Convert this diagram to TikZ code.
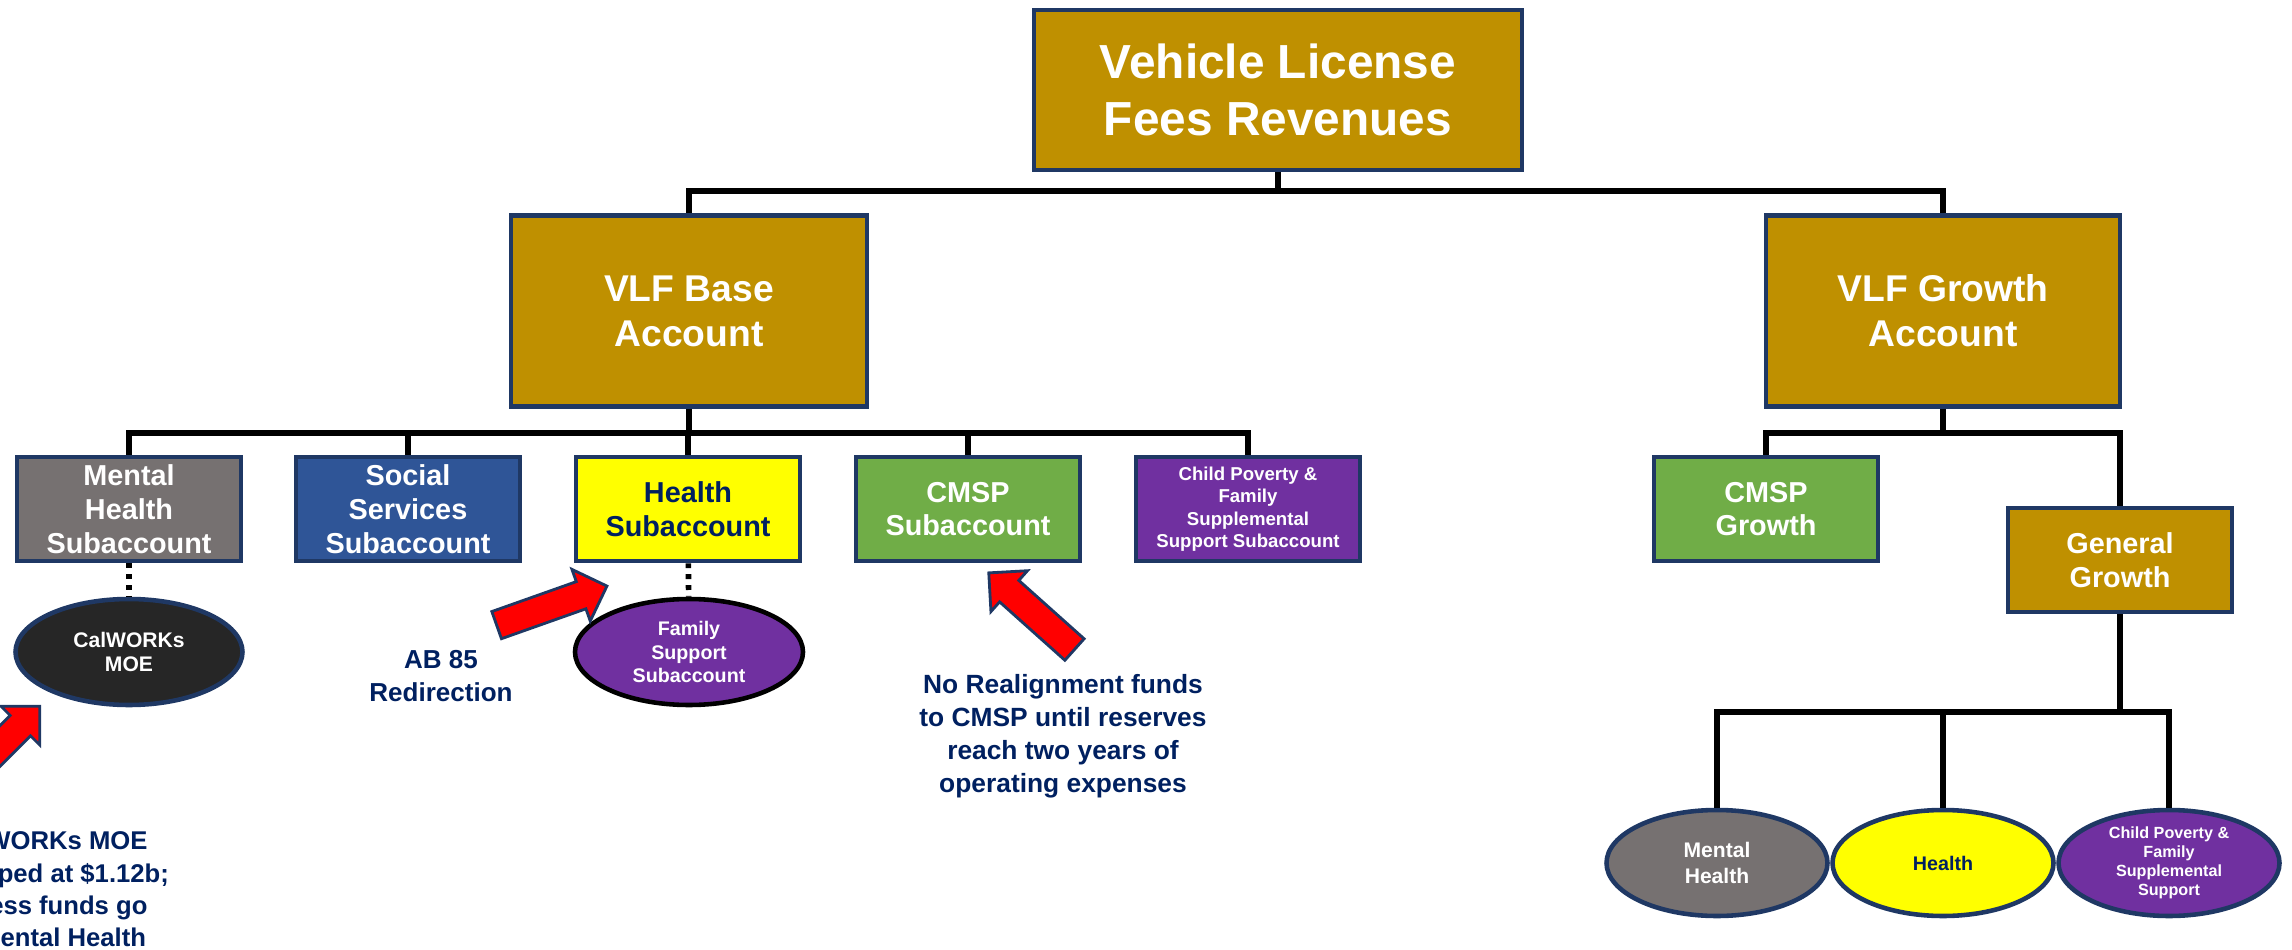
\documentclass[tikz,border=0pt]{standalone}
\usepackage{fontspec}
\setmainfont{Liberation Sans}
\usetikzlibrary{shapes.geometric,shapes.arrows}

\definecolor{vlfgold}{RGB}{191,144,0}
\definecolor{edgenavy}{RGB}{31,56,100}
\definecolor{textnavy}{RGB}{0,32,96}
\definecolor{mhgray}{RGB}{118,113,113}
\definecolor{ssblue}{RGB}{47,85,151}
\definecolor{hyellow}{RGB}{255,255,0}
\definecolor{cmspgreen}{RGB}{112,173,71}
\definecolor{cppurple}{RGB}{112,48,160}
\definecolor{moedark}{RGB}{38,38,38}
\definecolor{arrowred}{RGB}{255,0,0}

\newcommand{\fsz}[2]{\fontsize{#1}{#2}\selectfont}

\tikzset{
  acct/.style={draw=edgenavy,line width=1.3pt,align=center,text=white,inner sep=1pt},
  subacct/.style={acct,minimum width=2.24cm,minimum height=1.04cm,font=\bfseries\fsz{8.2}{9.6}},
  pot/.style={ellipse,draw=edgenavy,line width=1.3pt,align=center,text=white,inner xsep=0pt,inner ysep=-3pt},
  link/.style={line width=1.6pt},
  dotlink/.style={line width=1.6pt,dash pattern=on 1.4pt off 1.7pt},
  redarrow/.style={single arrow,draw=edgenavy,line width=0.8pt,fill=arrowred,inner sep=0.13cm,single arrow head extend=0.13cm,minimum width=0pt},
  note/.style={align=center,text=textnavy,font=\bfseries\fsz{7.3}{9.2}}
}

\begin{document}
\begin{tikzpicture}
  \useasboundingbox (0,0) rectangle (22.92,9.49);
  \clip (0,0) rectangle (22.92,9.49);

  % revenue and the two accounts
  \node (rev) at (12.78,8.59) [acct,fill=vlfgold,minimum width=4.88cm,minimum height=1.6cm,font=\bfseries\fsz{13.6}{16.2}]{Vehicle License\\Fees Revenues};
  \node (base) at (6.89,6.38) [acct,fill=vlfgold,minimum width=3.56cm,minimum height=1.91cm,font=\bfseries\fsz{10.6}{12.8}]{VLF Base\\Account};
  \node (growth) at (19.43,6.38) [acct,fill=vlfgold,minimum width=3.54cm,minimum height=1.91cm,font=\bfseries\fsz{10.6}{12.8}]{VLF Growth\\Account};

  % base subaccounts
  \node (mh) at (1.29,4.40) [subacct,fill=mhgray]{Mental\\Health\\Subaccount};
  \node (ss) at (4.08,4.40) [subacct,fill=ssblue]{Social\\Services\\Subaccount};
  \node (health) at (6.88,4.40) [subacct,fill=hyellow,text=textnavy]{Health\\Subaccount};
  \node (cmsp) at (9.68,4.40) [subacct,fill=cmspgreen]{CMSP\\Subaccount};
  \node (cp) at (12.48,4.40) [subacct,fill=cppurple,font=\bfseries\fsz{5.3}{6.4}]{Child Poverty \&\\Family\\Supplemental\\Support Subaccount};

  \node (calw) at (1.29,2.97) [pot,fill=moedark,minimum width=2.27cm,minimum height=1.06cm,font=\bfseries\fsz{6.0}{7.0}]{CalWORKs\\MOE};
  \node (fam) at (6.89,2.97) [pot,fill=cppurple,draw=black,minimum width=2.28cm,minimum height=1.06cm,font=\bfseries\fsz{5.6}{6.6}]{Family\\Support\\Subaccount};

  % growth side
  \node (cmspg) at (17.66,4.40) [subacct,fill=cmspgreen]{CMSP\\Growth};
  \node (gen) at (21.20,3.89) [subacct,fill=vlfgold]{General\\Growth};

  \node (mhe) at (17.17,0.86) [pot,fill=mhgray,minimum width=2.21cm,minimum height=1.06cm,font=\bfseries\fsz{6.0}{7.4}]{Mental\\Health};
  \node (he) at (19.43,0.86) [pot,fill=hyellow,text=textnavy,minimum width=2.21cm,minimum height=1.06cm,font=\bfseries\fsz{5.6}{7.0}]{Health};
  \node (cpe) at (21.69,0.86) [pot,fill=cppurple,minimum width=2.21cm,minimum height=1.06cm,font=\bfseries\fsz{4.6}{5.4}]{Child Poverty \&\\Family\\Supplemental\\Support};

  % notes
  \node (ab85) at (4.41,2.73) [note,font=\bfseries\fsz{7.4}{9.5}]{AB 85\\Redirection};
  \node (realign) at (10.63,2.13) [note,font=\bfseries\fsz{7.5}{9.4}]{No Realignment funds\\to CMSP until reserves\\reach two years of\\operating expenses};
  \node (moecap) at (0.47,0.60) [note]{CalWORKs MOE\\is capped at \$1.12b;\\excess funds go\\to Mental Health};

  \node (arrab) at (5.45,3.41) [redarrow,rotate=19.5,minimum height=1.17cm]{};
  \node (arrcmsp) at (10.37,3.33) [redarrow,rotate=138.2,minimum height=1.15cm]{};
  \node (arrmoe) at (-0.06,1.97) [redarrow,rotate=45,minimum height=1.15cm]{};

  % tree lines
  \coordinate (top) at (12.78,7.58);
  \draw[link] (rev) -- (top);
  \draw[link] (top) -| (base);
  \draw[link] (top) -| (growth);

  \coordinate (basebar) at (6.89,5.16);
  \draw[link] (base) -- (basebar);
  \draw[link] (basebar) -| (mh);
  \draw[link] (basebar) -| (ss);
  \draw[link] (basebar) -| (health);
  \draw[link] (basebar) -| (cmsp);
  \draw[link] (basebar) -| (cp);

  \draw[dotlink] (mh) -- (calw);
  \draw[dotlink] (health) -- (fam);

  \coordinate (growthbar) at (19.43,5.16);
  \draw[link] (growth) -- (growthbar);
  \draw[link] (growthbar) -| (cmspg);
  \draw[link] (growthbar) -| (gen);

  \coordinate (genbar) at (21.20,2.37);
  \draw[link] (gen) -- (genbar);
  \draw[link] (genbar) -| (mhe);
  \draw[link] (genbar) -| (he);
  \draw[link] (genbar) -| (cpe);

\end{tikzpicture}
\end{document}
